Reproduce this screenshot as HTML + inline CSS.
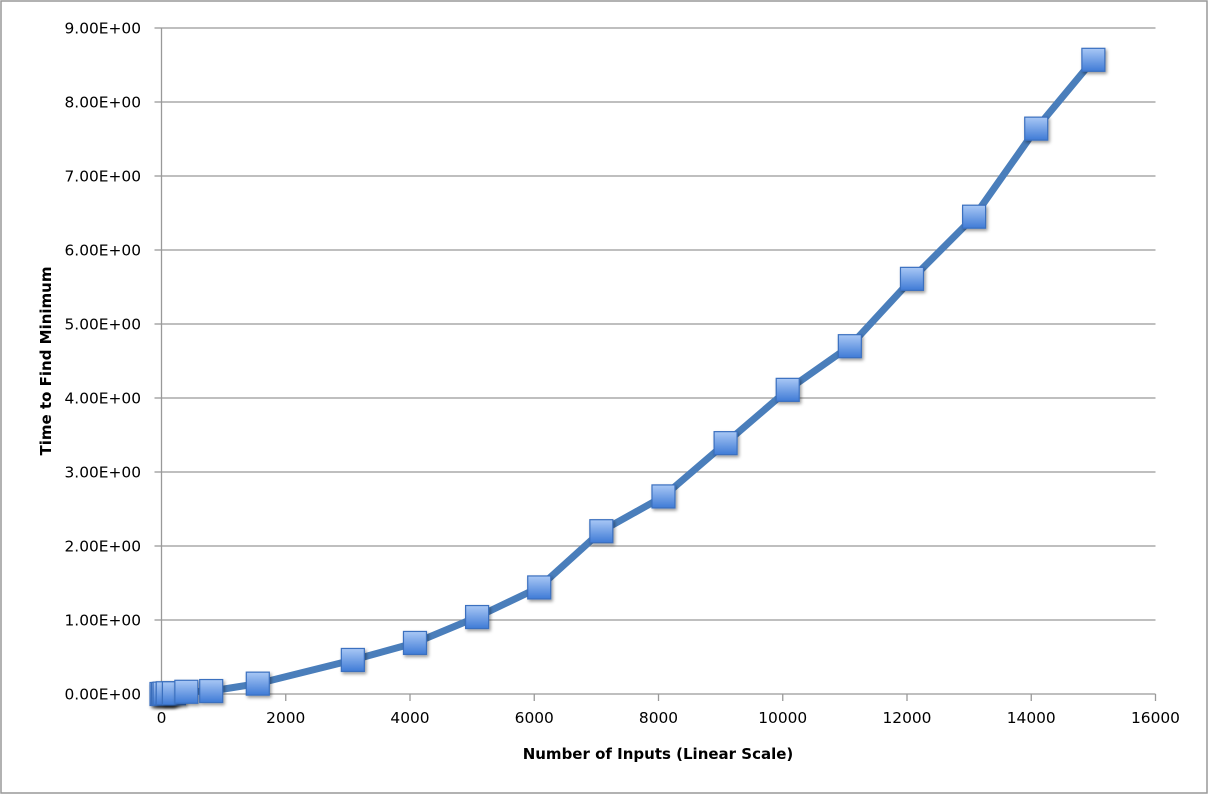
<!DOCTYPE html>
<html><head><meta charset="utf-8"><style>
html,body{margin:0;padding:0;background:#fff;}
svg text{font-family:"DejaVu Sans","Liberation Sans",sans-serif;}
</style></head><body>
<svg id="chart" width="1209" height="795" xmlns="http://www.w3.org/2000/svg">
<defs>
<linearGradient id="mg" x1="0" y1="0" x2="0" y2="1">
<stop offset="0" stop-color="#a9c8f5"/><stop offset="1" stop-color="#3f7bd6"/>
</linearGradient>
<filter id="sh" x="-30%" y="-30%" width="170%" height="170%"><feDropShadow dx="1.5" dy="2" stdDeviation="1.5" flood-color="#000" flood-opacity="0.4"/></filter>
</defs>
<rect x="1" y="1" width="1206" height="792" fill="#fff" stroke="#999" stroke-width="1.5"/>
<g id="grid"></g>
<g id="axes"></g>
<g id="series"></g>
<text x="658" y="759" text-anchor="middle" font-size="15" font-weight="bold">Number of Inputs (Linear Scale)</text>
<text transform="translate(51,361) rotate(-90)" text-anchor="middle" font-size="15" font-weight="bold">Time to Find Minimum</text>
</svg>
<script>
const xValues=[0,25,50,100,200,400,800,1550,3080,4080,5080,6080,7080,8080,9080,10080,11080,12080,13080,14080,15000];
const yValues=[0,0,0.005,0.01,0.01,0.03,0.04,0.14,0.46,0.69,1.04,1.44,2.2,2.67,3.39,4.11,4.70,5.61,6.45,7.64,8.57];
const yTicks=[0,1,2,3,4,5,6,7,8,9];
const yTickLabels=["0.00E+00","1.00E+00","2.00E+00","3.00E+00","4.00E+00","5.00E+00","6.00E+00","7.00E+00","8.00E+00","9.00E+00"];
const xTicks=[0,2000,4000,6000,8000,10000,12000,14000,16000];
const NS="http://www.w3.org/2000/svg";
const X0=161.5,X1=1155.5,Y0=694,Y1=28;
const sx=v=>X0+(v-0)/(16000)*(X1-X0);
const sy=v=>Y0-(v/9)*(Y0-Y1);
function mk(tag,attrs,parent){const e=document.createElementNS(NS,tag);for(const k in attrs)e.setAttribute(k,attrs[k]);parent.appendChild(e);return e;}
const grid=document.getElementById('grid'),axes=document.getElementById('axes'),series=document.getElementById('series');
yTicks.forEach((t,i)=>{
  const y=sy(t);
  if(t>0){const g=mk('line',{x1:X0,x2:X1,y1:y,y2:y,stroke:'#999','stroke-width':1.3},grid);
  
  }
  const tk=mk('line',{x1:X0-7,x2:X0,y1:y,y2:y,stroke:'#999','stroke-width':1.3},axes);
  
  
  const tx=mk('text',{x:141,y:y+5.5,'text-anchor':'end','font-size':15.4},axes);
  tx.textContent=yTickLabels[i];
  
  
});
xTicks.forEach(t=>{
  const x=sx(t);
  const tk=mk('line',{x1:x,x2:x,y1:Y0,y2:Y0+7,stroke:'#999','stroke-width':1.3},axes);
  
  
  const tx=mk('text',{x:x,y:Y0+29,'text-anchor':'middle','font-size':15.4},axes);
  tx.textContent=String(t);
  
  
});
const ya=mk('line',{x1:X0,x2:X0,y1:Y1,y2:Y0,stroke:'#999','stroke-width':1.3},axes);


const xa=mk('line',{x1:X0,x2:X1,y1:Y0,y2:Y0,stroke:'#999','stroke-width':1.3},axes);


const pts=xValues.map((v,i)=>sx(v).toFixed(1)+','+sy(yValues[i]).toFixed(1)).join(' ');
const pl=mk('polyline',{points:pts,fill:'none',stroke:'#4a7ebb','stroke-width':7,'stroke-linejoin':'round','stroke-linecap':'round'},series);


xValues.forEach((v,i)=>{
  const cx=sx(v),cy=sy(yValues[i]);
  const r=mk('rect',{x:cx-11.5,y:cy-11.5,width:23,height:23,fill:'url(#mg)',stroke:'#3a6fbf','stroke-width':1.2,filter:'url(#sh)'},series);
  
  
});
</script>
</body></html>
